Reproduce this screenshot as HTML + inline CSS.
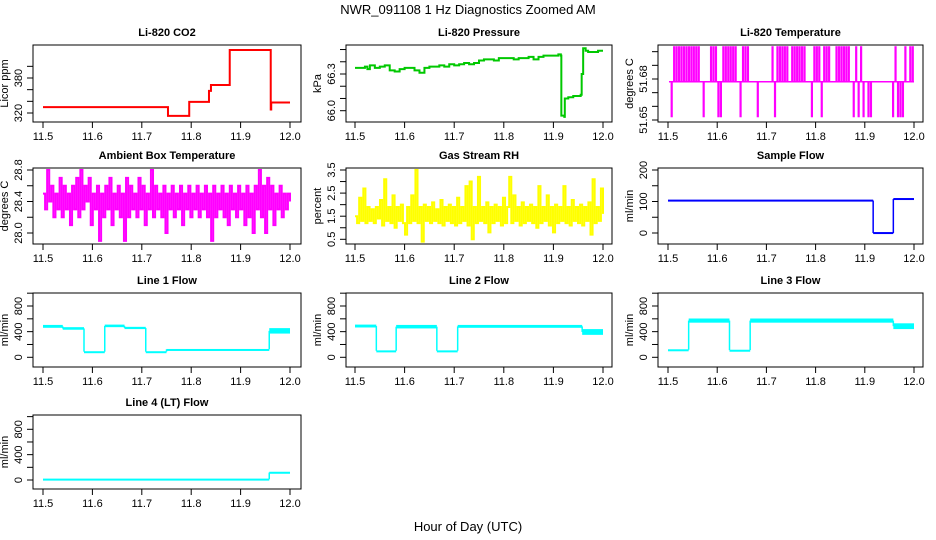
<!DOCTYPE html>
<html><head><meta charset="utf-8"><style>
body{margin:0;background:#fff;}
svg{display:block;font-family:"Liberation Sans",sans-serif;}
</style></head><body>
<svg id="chart" width="936" height="540" viewBox="0 0 936 540" xmlns="http://www.w3.org/2000/svg">
<rect width="936" height="540" fill="#fff"/>
<text x="468" y="14" text-anchor="middle" font-size="13">NWR_091108  1 Hz Diagnostics Zoomed AM</text>
<text x="468" y="531" text-anchor="middle" font-size="13">Hour of Day (UTC)</text>
</svg>
<script>
// ---- data ----
const xTicks=[11.5,11.6,11.7,11.8,11.9,12.0];
const xTickLabels=["11.5","11.6","11.7","11.8","11.9","12.0"];
const co2T=[11.5,11.753,11.796,11.836,11.84,11.878,11.961,11.962,12.0];
const co2V=[330,315,339,358,368,428,326,338,338];
const pressT=[11.5,11.51,11.52,11.525,11.53,11.54,11.55,11.56,11.57,11.58,11.59,11.60,11.61,11.62,11.63,11.64,11.65,11.66,11.67,11.68,11.69,11.70,11.71,11.72,11.73,11.74,11.75,11.76,11.77,11.78,11.79,11.80,11.81,11.82,11.83,11.84,11.85,11.86,11.87,11.88,11.89,11.90,11.91,11.915,11.916,11.922,11.923,11.93,11.94,11.955,11.957,11.96,11.965,11.97,11.98,11.99,12.0];
const pressV=[66.35,66.35,66.36,66.34,66.37,66.35,66.36,66.37,66.33,66.32,66.34,66.35,66.35,66.33,66.31,66.35,66.36,66.36,66.37,66.36,66.38,66.37,66.38,66.39,66.38,66.39,66.41,66.42,66.42,66.41,66.43,66.43,66.43,66.42,66.43,66.43,66.44,66.42,66.44,66.45,66.45,66.45,66.46,66.45,65.96,65.95,66.10,66.11,66.12,66.13,66.30,66.51,66.49,66.48,66.48,66.49,66.49];
const tempStates=[0,-1,1,1,1,1,1,1,1,1,1,1,1,0,-1,0,0,1,1,1,-1,-1,1,1,1,1,1,1,0,-1,1,1,1,0,0,0,-1,0,0,0,0,0,1,-1,1,1,1,1,1,0,1,1,1,1,1,1,0,0,-1,1,1,1,-1,1,1,1,0,0,1,1,1,1,1,1,0,-1,1,-1,1,-1,0,-1,-1,0,0,0,0,0,0,0,0,-1,1,-1,-1,-1,1,0,1,1];
const tempLevels=[51.652,51.678,51.704];
const ambV=[28.5,28.3,28.8,28.4,28.6,28.2,28.5,28.3,28.7,28.2,28.6,28.3,28.5,28.1,28.6,28.3,28.7,28.2,28.8,28.3,28.6,28.4,28.7,28.1,28.5,28.3,28.6,27.9,28.5,28.2,28.6,28.3,28.7,28.1,28.5,28.3,28.6,28.2,28.5,27.9,28.7,28.2,28.6,28.3,28.5,28.2,28.7,28.3,28.6,28.1,28.5,28.3,28.8,28.2,28.6,28.3,28.5,28.2,28.6,28.0,28.5,28.3,28.6,28.2,28.5,28.3,28.6,28.1,28.5,28.3,28.6,28.2,28.5,28.3,28.6,28.2,28.5,28.3,28.6,28.2,28.5,27.9,28.6,28.2,28.5,28.3,28.6,28.2,28.5,28.1,28.6,28.3,28.5,28.2,28.6,28.3,28.5,28.1,28.6,28.2,28.5,28.0,28.6,28.3,28.8,28.2,28.6,28.0,28.7,28.3,28.6,28.1,28.5,28.3,28.6,28.2,28.5,28.3,28.5,28.4];
const rhV=[1.5,1.2,2.3,1.3,2.7,1.2,1.9,1.3,1.8,1.2,1.9,1.4,2.2,1.1,3.1,1.3,1.9,1.2,2.4,1.0,1.9,1.3,2.0,1.2,0.7,1.9,1.2,2.4,1.3,3.5,1.2,1.9,0.4,2.0,1.3,1.9,1.2,2.1,1.3,1.8,1.2,2.2,1.1,1.9,1.3,2.0,1.2,1.9,1.1,2.3,1.2,1.9,1.3,2.8,1.1,3.0,0.5,1.9,1.2,3.2,1.3,1.9,1.2,2.1,0.8,1.9,1.2,2.0,1.3,1.9,1.1,2.3,1.2,1.9,3.2,1.2,2.4,1.3,1.9,1.1,2.1,1.2,1.9,1.3,2.0,1.2,1.9,1.0,2.8,1.2,1.9,1.3,2.4,1.1,1.9,0.8,2.0,1.2,1.9,1.3,2.8,1.2,1.9,1.1,2.2,1.3,1.9,1.2,2.0,1.1,1.9,1.3,2.1,0.7,3.1,1.2,1.9,1.3,2.7,1.6];
const sfStart=[11.5,11.917,11.958];
const sfEnd=[11.917,11.958,12.0];
const sfV=[103,0,108];
const l1Start=[11.5,11.54,11.583,11.625,11.665,11.708,11.75,11.958];
const l1End=[11.54,11.583,11.625,11.665,11.708,11.75,11.958,12.0];
const l1Lo=[460,430,80,470,440,80,118,370];
const l1Hi=[505,470,95,510,475,95,130,455];
const l2Start=[11.5,11.543,11.583,11.665,11.707,11.958];
const l2End=[11.543,11.583,11.665,11.707,11.958,12.0];
const l2Lo=[465,95,450,95,460,350];
const l2Hi=[510,108,505,108,505,440];
const l3Start=[11.5,11.542,11.625,11.667,11.958];
const l3End=[11.542,11.625,11.667,11.958,12.0];
const l3Lo=[110,540,105,540,440];
const l3Hi=[125,605,118,605,530];
const l4Start=[11.5,11.958];
const l4End=[11.958,12.0];
const l4Lo=[0,105];
const l4Hi=[22,130];

// ---- layout ----
const svg=document.getElementById('chart');
const NS='http://www.w3.org/2000/svg';
function el(tag,attrs,parent){const e=document.createElementNS(NS,tag);for(const k in attrs)e.setAttribute(k,attrs[k]);(parent||svg).appendChild(e);return e;}
const cols=[{l:33,r:301,xa:43,xb:290},{l:346,r:612,xa:355,xb:603},{l:658,r:923,xa:668,xb:914}];
const rows=[{t:45,b:122},{t:168,b:244},{t:293,b:367},{t:415,b:489}];
function panel(name,title,c,r,yl,va,pa,vb,pb,ticks,labels){
  const C=cols[c],R=rows[r];
  const g=el('g',{});
  
  
  const X=v=>C.xa+(v-11.5)/0.5*(C.xb-C.xa);
  const Y=v=>pa+(v-va)*(pb-pa)/(vb-va);
  const t=el('text',{x:(C.l+C.r)/2,y:R.t-9,'text-anchor':'middle','font-size':11,'font-weight':'bold'},g);
  t.textContent=title;
  
  
  const data=el('g',{},g);
  
  
  const bx=el('rect',{x:C.l,y:R.t,width:C.r-C.l,height:R.b-R.t,fill:'none',stroke:'#000','stroke-width':1},g);
  
  
  xTicks.forEach((v,i)=>{
    el('line',{x1:X(v),x2:X(v),y1:R.b,y2:R.b+6,stroke:'#000'},g);
    const tl=el('text',{x:X(v),y:R.b+18,'text-anchor':'middle','font-size':11},g);
    tl.textContent=xTickLabels[i];
    
    
  });
  ticks.forEach(v=>{el('line',{x1:C.l-6,x2:C.l,y1:Y(v),y2:Y(v),stroke:'#000'},g);});
  labels.forEach(v=>{
    const x=C.l-11,y=Y(v);
    const tl=el('text',{x:x,y:y,'text-anchor':'middle','font-size':11,transform:`rotate(-90 ${x} ${y})`},g);
    tl.textContent=String(v);
    
    
  });
  const lx=C.l-25,ly=(R.t+R.b)/2;
  const yt=el('text',{x:lx,y:ly,'text-anchor':'middle','font-size':11,transform:`rotate(-90 ${lx} ${ly})`},g);
  yt.textContent=yl;
  
  
  return {X,Y,g:data};
}
function stepLine(p,T,V,color,w){
  let d='';T.forEach((t,i)=>{const x=p.X(t),y=p.Y(V[i]);d+=(i?`H${x}V${y}`:`M${x},${y}`);});
  const e=el('path',{d:d,fill:'none',stroke:color,'stroke-width':w},p.g);
  
  
}
function bands(p,S,E,L,H,color){
  S.forEach((s,i)=>{
    const x1=p.X(s),x2=p.X(E[i]),y1=p.Y(H[i]),y2=p.Y(L[i]);
    const r=el('rect',{x:x1,y:y1,width:x2-x1,height:Math.max(2,y2-y1),fill:color},p.g);
    
    
    if(i>0){const pv=p.Y((L[i-1]+H[i-1])/2);el('line',{x1:x1,x2:x1,y1:pv,y2:(y1+y2)/2,stroke:color,'stroke-width':1.5},p.g);}
  });
}
function noisy(p,V,color,w){
  const n=V.length;let d='';
  V.forEach((v,i)=>{const x=p.X(11.5+0.5*i/(n-1)),y=p.Y(v);d+=(i?`H${x}V${y}`:`M${x},${y}`);});
  const e=el('path',{d:d,fill:'none',stroke:color,'stroke-width':w},p.g);
  
  
}

let p=panel('co2-panel','Li-820 CO2',0,0,'Licor ppm',320,113,380,78,[320,340,360,380,400],[320,380]);
stepLine(p,co2T,co2V,'#ff0000',2);
p=panel('pressure-panel','Li-820 Pressure',1,0,'kPa',66.0,110.7,66.3,74,[66.0,66.1,66.2,66.3,66.4,66.5],['66.0','66.3']);
stepLine(p,pressT,pressV,'#00c800',2);
p=panel('temperature-panel','Li-820 Temperature',2,0,'degrees C',51.65,120,51.68,79,[51.65,51.66,51.67,51.68,51.69,51.70],['51.65','51.68']);
{const base=p.Y(tempLevels[1]);
 el('line',{x1:p.X(11.502),x2:p.X(12.0),y1:base,y2:base,stroke:'#ff00ff','stroke-width':1.5},p.g);
 tempStates.forEach((s,i)=>{ if(s===0)return;
   const x=p.X(11.5+0.005*i+0.0025);
   const ln=el('line',{x1:x,x2:x,y1:base,y2:p.Y(tempLevels[s+1]),stroke:'#ff00ff','stroke-width':2.2},p.g);
   
   
 });}
p=panel('ambient-temp-panel','Ambient Box Temperature',0,1,'degrees C',28.0,233,28.8,170,[28.0,28.2,28.4,28.6,28.8],['28.0','28.4','28.8']);
noisy(p,ambV,'#ff00ff',2);
p=panel('gas-rh-panel','Gas Stream RH',1,1,'percent',0.5,239.3,3.5,170,[0.5,1.0,1.5,2.0,2.5,3.0,3.5],['0.5','1.5','2.5','3.5']);
noisy(p,rhV,'#ffff00',2);
p=panel('sample-flow-panel','Sample Flow',2,1,'ml/min',0,233,200,170,[0,50,100,150,200],[0,100,200]);
bands(p,sfStart,sfEnd,sfV.map(v=>v-3),sfV.map(v=>v+3),'#0000ff');
const lt=[0,200,400,600,800,1000],ll=[0,400,800];
p=panel('line1-flow-panel','Line 1 Flow',0,2,'ml/min',0,357.3,800,306,lt,ll);
bands(p,l1Start,l1End,l1Lo,l1Hi,'#00ffff');
p=panel('line2-flow-panel','Line 2 Flow',1,2,'ml/min',0,357.3,800,306,lt,ll);
bands(p,l2Start,l2End,l2Lo,l2Hi,'#00ffff');
p=panel('line3-flow-panel','Line 3 Flow',2,2,'ml/min',0,357.3,800,306,lt,ll);
bands(p,l3Start,l3End,l3Lo,l3Hi,'#00ffff');
p=panel('line4-flow-panel','Line 4 (LT) Flow',0,3,'ml/min',0,480,800,429.3,lt,ll);
bands(p,l4Start,l4End,l4Lo,l4Hi,'#00ffff');
</script>
</body></html>
